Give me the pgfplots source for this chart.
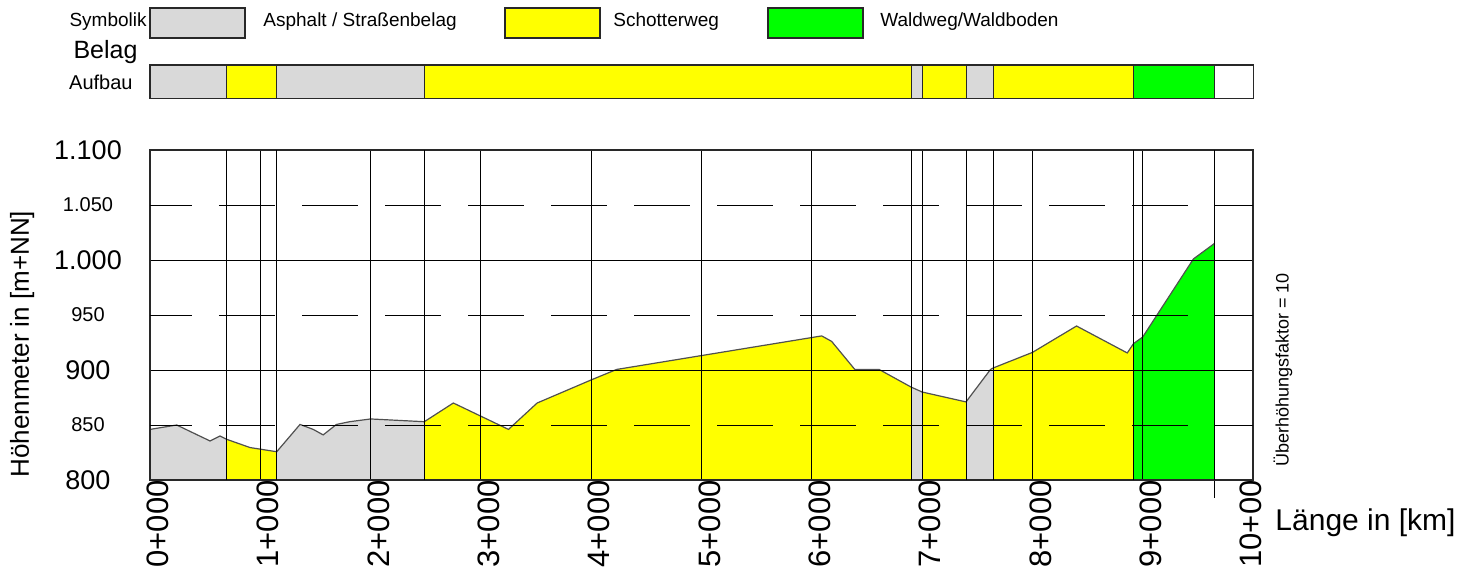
\documentclass[border=0pt]{standalone}
\usepackage{fontspec}
\setmainfont{Liberation Sans}
\usepackage{pgfplots}
\pgfplotsset{compat=1.18}
\definecolor{asph}{RGB}{217,217,217}
\definecolor{schot}{RGB}{255,255,0}
\definecolor{wald}{RGB}{0,255,0}
\definecolor{prof}{RGB}{80,80,80}
\definecolor{frame}{RGB}{40,40,40}

\begin{document}
\begin{tikzpicture}
\path[use as bounding box] (-75pt,-49.5pt) rectangle (658pt,240pt);
% ---------------- main profile axis ----------------
\begin{axis}[
  at={(0,0)}, anchor=south west,
  scale only axis, width=551.5pt, height=165pt,
  xmin=0, xmax=10, ymin=800, ymax=1100,
  clip=false,
  axis on top,
  axis line style={frame, line width=0.6pt},
  major tick length=0pt,
  xtick={0,1,2,3,4,5,6,7,8,9,10},
  xticklabels={0+000,1+000,2+000,3+000,4+000,5+000,6+000,7+000,8+000,9+000,{\raisebox{5pt}[\height][\depth]{10+00}}},
  xticklabel style={rotate=90, anchor=east, inner sep=0pt, yshift=-4pt,
     font=\fontsize{15.5}{18}\selectfont},
  ytick={800,900,1000,1100},
  yticklabels={800,900,1.000,1.100},
  yticklabel style={anchor=center, inner sep=0pt, xshift=-31pt,
     font=\fontsize{13.5}{16}\selectfont},
  extra y ticks={850,950,1050},
  extra y tick labels={850,950,1.050},
  extra y tick style={grid=major,
     major grid style={black, line width=0.5pt, dash pattern=on 28pt off 13.5pt, dash phase=7pt},
     yticklabel style={font=\fontsize{10}{12}\selectfont}},
  extra x ticks={0.695,1.149,2.487,6.90,7.398,7.648,8.917,9.65},
  extra x tick labels={},
  extra x tick style={grid=major},
  grid=major,
  major grid style={black, line width=0.5pt},
  ylabel={Höhenmeter in [m+NN]},
  ylabel style={at={(axis description cs:-0.116,0.412)}, anchor=center,
     font=\fontsize{13}{15}\selectfont},
  xlabel={Länge in [km]},
  xlabel style={at={(axis description cs:1.02,-0.13)}, anchor=west, inner sep=0pt,
     font=\fontsize{15}{18}\selectfont},
]
% Asphalt 0 - 0.695
\addplot[fill=asph, draw=none] coordinates {(0,800) (0,846) (0.242,850) (0.544,835.5) (0.635,840) (0.695,837) (0.695,800)} -- cycle;
% Schotter 0.695 - 1.149
\addplot[fill=schot, draw=none] coordinates {(0.695,800) (0.695,837) (0.907,829.5) (1.149,825.7) (1.149,800)} -- cycle;
% Asphalt 1.149 - 2.487
\addplot[fill=asph, draw=none] coordinates {(1.149,800) (1.149,825.7) (1.36,850.5) (1.48,846) (1.57,841) (1.69,850.5) (1.81,853) (2.0,855.5) (2.487,853) (2.487,800)} -- cycle;
% Schotter 2.487 - 6.90
\addplot[fill=schot, draw=none] coordinates {(2.487,800) (2.487,853) (2.75,870) (3.25,846) (3.51,870) (4.0,891) (4.23,900.5) (6.09,931) (6.18,926) (6.39,900.5) (6.61,900.5) (6.90,884.5) (6.90,800)} -- cycle;
% Asphalt 6.90 - 7.00
\addplot[fill=asph, draw=none] coordinates {(6.90,800) (6.90,884.5) (7.0,880) (7.0,800)} -- cycle;
% Schotter 7.00 - 7.398
\addplot[fill=schot, draw=none] coordinates {(7.0,800) (7.0,880) (7.398,871) (7.398,800)} -- cycle;
% Asphalt 7.398 - 7.648
\addplot[fill=asph, draw=none] coordinates {(7.398,800) (7.398,871) (7.62,900.5) (7.648,902) (7.648,800)} -- cycle;
% Schotter 7.648 - 8.917
\addplot[fill=schot, draw=none] coordinates {(7.648,800) (7.648,902) (8.0,916) (8.40,940) (8.86,915.5) (8.917,924) (8.917,800)} -- cycle;
% Waldweg 8.917 - 9.65
\addplot[fill=wald, draw=none] coordinates {(8.917,800) (8.917,924) (9.0,930) (9.46,1001) (9.65,1015) (9.65,800)} -- cycle;
% profile line
\addplot[prof, line width=0.6pt] coordinates {
 (0,846) (0.242,850) (0.544,835.5) (0.635,840) (0.695,837) (0.907,829.5) (1.149,825.7)
 (1.36,850.5) (1.48,846) (1.57,841) (1.69,850.5) (1.81,853) (2.0,855.5) (2.487,853)
 (2.75,870) (3.25,846) (3.51,870) (4.0,891) (4.23,900.5) (6.09,931) (6.18,926)
 (6.39,900.5) (6.61,900.5) (6.90,884.5) (7.0,880) (7.398,871) (7.62,900.5) (7.648,902)
 (8.0,916) (8.40,940) (8.86,915.5) (8.917,924) (9.0,930) (9.46,1001) (9.65,1015)};
\draw[black, line width=0.5pt] (axis cs:9.65,800) -- ([yshift=-9pt]axis cs:9.65,800);
\node[rotate=90, anchor=center, inner sep=0pt, font=\fontsize{9}{11}\selectfont]
   at (rel axis cs:1.0272,0.333) {Überhöhungsfaktor = 10};
\end{axis}
% ---------------- surface bar ----------------
\begin{axis}[
  at={(0,191pt)}, anchor=south west,
  scale only axis, width=551.5pt, height=16.5pt,
  xmin=0, xmax=10, ymin=0, ymax=1,
  ticks=none, clip=false,
  axis line style={frame, line width=0.6pt},
]
\addplot[fill=asph, draw=frame] coordinates {(0,0) (0.695,0) (0.695,1) (0,1)} -- cycle;
\addplot[fill=schot, draw=frame] coordinates {(0.695,0) (1.149,0) (1.149,1) (0.695,1)} -- cycle;
\addplot[fill=asph, draw=frame] coordinates {(1.149,0) (2.487,0) (2.487,1) (1.149,1)} -- cycle;
\addplot[fill=schot, draw=frame] coordinates {(2.487,0) (6.90,0) (6.90,1) (2.487,1)} -- cycle;
\addplot[fill=asph, draw=frame] coordinates {(6.90,0) (7.0,0) (7.0,1) (6.90,1)} -- cycle;
\addplot[fill=schot, draw=frame] coordinates {(7.0,0) (7.398,0) (7.398,1) (7.0,1)} -- cycle;
\addplot[fill=asph, draw=frame] coordinates {(7.398,0) (7.648,0) (7.648,1) (7.398,1)} -- cycle;
\addplot[fill=schot, draw=frame] coordinates {(7.648,0) (8.917,0) (8.917,1) (7.648,1)} -- cycle;
\addplot[fill=wald, draw=frame] coordinates {(8.917,0) (9.65,0) (9.65,1) (8.917,1)} -- cycle;
\addplot[fill=white, draw=frame] coordinates {(9.65,0) (10,0) (10,1) (9.65,1)} -- cycle;
\end{axis}
% ---------------- labels and legend ----------------
\node[anchor=east, inner sep=0pt, font=\fontsize{9.5}{11}\selectfont] at (-1.5pt,229pt) {Symbolik};
\node[inner sep=0pt, font=\fontsize{12.5}{14}\selectfont] at (-22.25pt,214pt) {Belag};
\node[anchor=east, inner sep=0pt, font=\fontsize{10}{12}\selectfont] at (-8.5pt,199pt) {Aufbau};
\draw[fill=asph, draw=frame, line width=0.6pt] (0pt,221pt) rectangle (47.5pt,236pt);
\node[anchor=west, inner sep=0pt, font=\fontsize{9.5}{11}\selectfont] at (56.5pt,229pt) {Asphalt / Straßenbelag};
\draw[fill=schot, draw=frame, line width=0.6pt] (177.5pt,221pt) rectangle (225pt,236pt);
\node[anchor=west, inner sep=0pt, font=\fontsize{9.5}{11}\selectfont] at (231.5pt,229pt) {Schotterweg};
\draw[fill=wald, draw=frame, line width=0.6pt] (309pt,221pt) rectangle (356.5pt,236pt);
\node[anchor=west, inner sep=0pt, font=\fontsize{9.5}{11}\selectfont] at (365pt,229pt) {Waldweg/Waldboden};
\end{tikzpicture}
\end{document}
